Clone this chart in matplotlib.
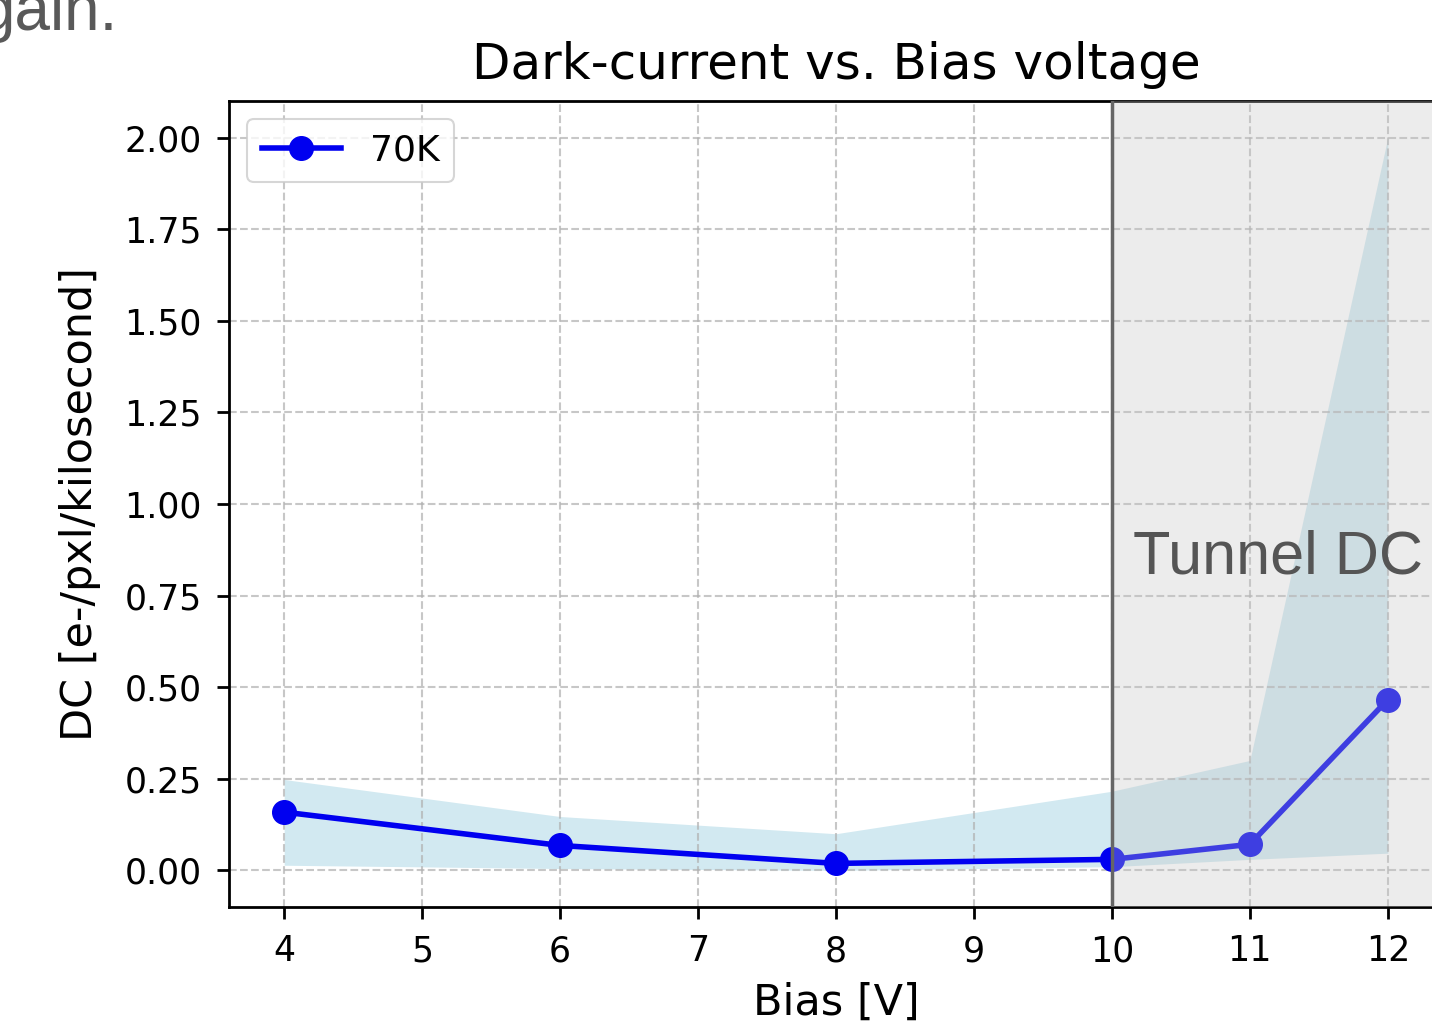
import matplotlib
matplotlib.use('Agg')
import matplotlib.pyplot as plt
import numpy as np

# data
bias = [4, 6, 8, 10, 11, 12]
dc_70k = [0.159, 0.068, 0.019, 0.030, 0.071, 0.466]
dc_low = [0.014, 0.005, 0.0, 0.010, 0.030, 0.047]
dc_high = [0.248, 0.147, 0.100, 0.216, 0.300, 2.0]
x_ticks = [4, 5, 6, 7, 8, 9, 10, 11, 12]
tunnel_start = 10

fig = plt.figure(figsize=(14.32, 10.23), dpi=100)
ax = fig.add_axes([229 / 1432, 1 - 907 / 1023, (1443 - 229) / 1432, (907 - 101) / 1023])

ax.fill_between(bias, dc_low, dc_high, color='lightblue', alpha=0.55, linewidth=0)
ax.plot(bias, dc_70k, marker='o', color='#0000f0', linewidth=4, markersize=17, label='70K')

ax.set_xlim(3.6, 12.4)
ax.set_ylim(-0.1, 2.1)
ax.set_xticks(x_ticks)
ax.set_yticks([0, 0.25, 0.5, 0.75, 1.0, 1.25, 1.5, 1.75, 2.0])
ax.set_yticklabels([f'{v:.2f}' for v in ax.get_yticks()])
ax.grid(True, linestyle='--', color='#b0b0b0', alpha=0.7, linewidth=1.5)

ax.tick_params(labelsize=25, length=8.5, width=2, pad=11)
for sp in ax.spines.values():
    sp.set_linewidth(2)

ax.set_title('Dark-current vs. Bias voltage', fontsize=36, pad=16)
ax.set_xlabel('Bias [V]', fontsize=31, labelpad=10)
ax.set_ylabel('DC [e-/pxl/kilosecond]', fontsize=31, labelpad=17)

leg = ax.legend(loc='upper left', fontsize=26, handlelength=2.2, borderpad=0.4)
leg.get_frame().set_linewidth(1.5)

# slide overlay marking the tunnelling region
ax.axvspan(tunnel_start, 12.4, color='#c4c4c4', alpha=0.32, zorder=5, linewidth=0)
ax.axvline(tunnel_start, color='#666666', linewidth=2.5, zorder=6)
ax.text(1133 / 1432, 1 - 573 / 1023, 'Tunnel DC', transform=fig.transFigure,
        fontsize=44, family='Liberation Sans', color='#555555', va='baseline', zorder=7)

fig.text(118 / 1432, 1 - 30 / 1023, 'gain.', fontsize=46, family='Liberation Sans',
         color='#595959', ha='right', va='baseline')

plt.savefig('out.png', dpi=100)
